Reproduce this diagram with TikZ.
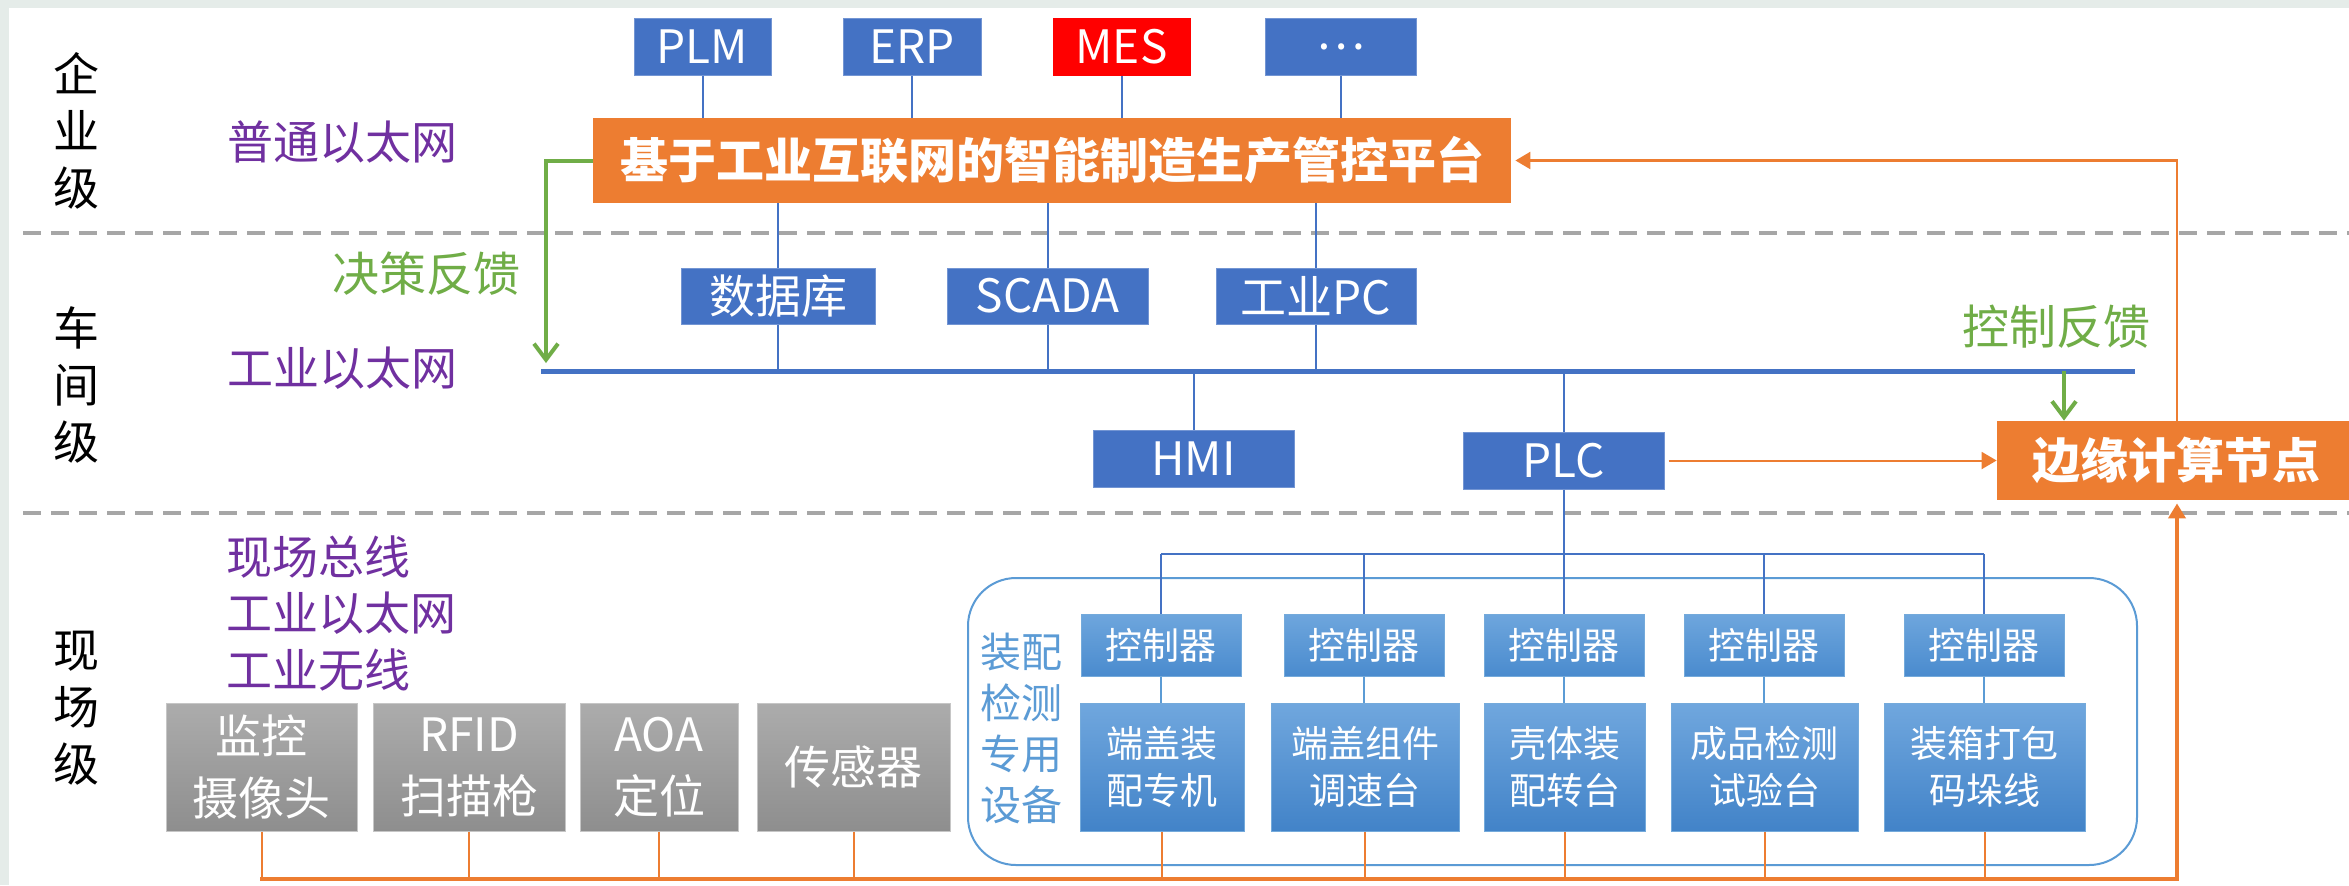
\documentclass[tikz,border=0pt]{standalone}
\usepackage{fontspec}
\setmainfont{Noto Sans CJK SC}
\usetikzlibrary{arrows.meta,calc}
\definecolor{bblue}{HTML}{4472C4}
\definecolor{lblue}{HTML}{5B9BD5}
\definecolor{orng}{HTML}{ED7D31}
\definecolor{grn}{HTML}{70AD47}
\definecolor{purp}{HTML}{7030A0}
\definecolor{dgray}{HTML}{A6A6A6}
\definecolor{mred}{HTML}{FF0000}
\definecolor{bandc}{HTML}{E5ECE9}
\definecolor{ctop}{HTML}{6EA6DD}
\definecolor{cbot}{HTML}{4A8BCE}
\definecolor{mtop}{HTML}{70A7DE}
\definecolor{mbot}{HTML}{4283C8}
\definecolor{gtop}{HTML}{ACACAC}
\definecolor{gbot}{HTML}{8E8E8E}
\begin{document}
\begin{tikzpicture}[x=0.5pt,y=-0.5pt,
  bluebox/.style={fill=bblue, draw=bblue!75!white, line width=0.5pt, text=white, inner sep=0pt,
    font=\fontsize{23}{28}\selectfont, minimum height=28.5pt},
  orangebox/.style={fill=orng, text=white, inner sep=0pt, font=\fontsize{24}{29}\selectfont\bfseries},
  ctrlbox/.style={top color=ctop, bottom color=cbot, draw=lblue!85!white, line width=0.5pt, text=white,
    inner sep=0pt, minimum width=80pt, minimum height=31pt, font=\fontsize{18.5}{23.5}\selectfont, align=center},
  machbox/.style={top color=mtop, bottom color=mbot, draw=lblue!85!white, line width=0.5pt, text=white,
    inner sep=0pt, minimum height=64pt, font=\fontsize{18.5}{23.5}\selectfont, align=center},
  graybox/.style={top color=gtop, bottom color=gbot, draw=gray!45, line width=0.5pt, text=white,
    inner sep=0pt, minimum height=64pt, font=\fontsize{23}{31}\selectfont, align=center},
  lvl/.style={font=\fontsize{23}{28.5}\selectfont, align=center, text=black, inner sep=0pt},
  netlabel/.style={text=purp, font=\fontsize{23}{28.25}\selectfont, inner sep=0pt},
  fblabel/.style={text=grn, font=\fontsize{23.5}{28}\selectfont, inner sep=0pt},
  bline/.style={bblue, line width=1pt},
  oline/.style={orng, line width=1pt},
  garrow/.style={grn, line width=2pt, -{Straight Barb[length=8pt,width=12pt]}},
  otip/.style={-{Triangle[length=7.5pt,width=8.5pt]}},
  sepline/.style={dgray, line width=2pt, dash pattern=on 9pt off 5pt}
]
\useasboundingbox (0,0) rectangle (2349,885);
\fill[white] (0,0) rectangle (2349,885);
\fill[bandc] (0,0) rectangle (2349,8);
\fill[bandc] (0,0) rectangle (9,885);

% separators
\draw[sepline] (23,233) -- (2349,233);
\draw[sepline] (23,513) -- (2349,513);

% container
\draw[lblue, line width=1pt, rounded corners=24pt] (968,578) rectangle (2137,865);

% level labels
\node[lvl] (lv1) at (76,131) {企\\业\\级};
\node[lvl] (lv2) at (76,385) {车\\间\\级};
\node[lvl] (lv3) at (76,708) {现\\场\\级};

\node[netlabel] (n1) at (342,142) {普通以太网};
\node[netlabel] (n2) at (342,368) {工业以太网};
\node[netlabel, anchor=west, align=left] (n3) at (226,613) {现场总线\\工业以太网\\工业无线};
\node[fblabel] (fb1) at (426,274) {决策反馈};
\node[fblabel] (fb2) at (2056,327) {控制反馈};
\node[text=lblue, font=\fontsize{20.5}{25.5}\selectfont, align=center, inner sep=0pt] (side) at (1021,728) {装配\\检测\\专用\\设备};

% enterprise
\node[bluebox, minimum width=68.5pt] (plm) at (702.5,46.5) {PLM};
\node[bluebox, minimum width=69pt] (erp) at (912,46.5) {ERP};
\node[bluebox, fill=mred, draw=mred, minimum width=68.5pt] (mes) at (1121.5,46.5) {MES};
\node[bluebox, minimum width=75.5pt] (dots) at (1340.5,46.5) {…};
\node[orangebox, minimum width=459pt, minimum height=42.5pt] (plat) at (1052,160.5) {基于工业互联网的智能制造生产管控平台};

% workshop
\node[bluebox, minimum width=97pt, minimum height=28pt] (db) at (778,296) {数据库};
\node[bluebox, minimum width=100.5pt, minimum height=28pt] (scada) at (1047.5,296) {SCADA};
\node[bluebox, minimum width=100pt, minimum height=28pt] (ipc) at (1316,296) {工业PC};
\node[bluebox, minimum width=100.5pt] (hmi) at (1193.5,458.5) {HMI};
\node[bluebox, minimum width=100.5pt] (plc) at (1563.5,460.5) {PLC};
\node[orangebox, minimum width=179pt, minimum height=39.5pt] (edge) at (2176,460.5) {边缘计算节点};

% field: controllers
\node[ctrlbox] (c1) at (1161,645) {控制器};
\node[ctrlbox] (c2) at (1364,645) {控制器};
\node[ctrlbox] (c3) at (1564,645) {控制器};
\node[ctrlbox] (c4) at (1764,645) {控制器};
\node[ctrlbox] (c5) at (1984,645) {控制器};

% machines
\node[machbox, minimum width=82pt] (m1) at (1162,767) {端盖装\\配专机};
\node[machbox, minimum width=94pt] (m2) at (1365,767) {端盖组件\\调速台};
\node[machbox, minimum width=80.5pt] (m3) at (1564.5,767) {壳体装\\配转台};
\node[machbox, minimum width=93.5pt] (m4) at (1764.5,767) {成品检测\\试验台};
\node[machbox, minimum width=100.5pt] (m5) at (1984.5,767) {装箱打包\\码垛线};

% gray devices
\node[graybox, minimum width=95.5pt] (g1) at (261.5,767) {监控\\摄像头};
\node[graybox, minimum width=96pt] (g2) at (469,767) {RFID\\扫描枪};
\node[graybox, minimum width=79pt] (g3) at (659,767) {AOA\\定位};
\node[graybox, minimum width=96.5pt] (g4) at (853.5,767) {传感器};

% coordinates
\coordinate (ethL) at (541,371);
\coordinate (ethR) at (2135,371);
\coordinate (busL) at (1161,554);
\coordinate (busR) at (1984,554);
\coordinate (obL) at (260,879);
\coordinate (obR) at (2177,879);
\coordinate (gc) at (546,160.5);
\coordinate (gd) at (2064,371);

% enterprise connectors
\draw[bline] (plm.south) -- (plm.south |- plat.north);
\draw[bline] (erp.south) -- (erp.south |- plat.north);
\draw[bline] (mes.south) -- (mes.south |- plat.north);
\draw[bline] (dots.south) -- (dots.south |- plat.north);
\draw[bline] (db.north) -- (db.north |- plat.south);
\draw[bline] (scada.north) -- (scada.north |- plat.south);
\draw[bline] (ipc.north) -- (ipc.north |- plat.south);

% ethernet
\draw[bblue, line width=2.5pt] (ethL) -- (ethR);
\draw[bline] (db.south) -- (db.south |- ethL);
\draw[bline] (scada.south) -- (scada.south |- ethL);
\draw[bline] (ipc.south) -- (ipc.south |- ethL);
\draw[bline] (hmi.north) -- (hmi.north |- ethL);
\draw[bline] (plc.north) -- (plc.north |- ethL);

% field bus
\draw[bline] (plc.south) -- (plc.south |- busL);
\draw[bline] (busL) -- (busR);
\foreach \i in {1,...,5} {
  \draw[bline] (c\i.north) -- (c\i.north |- busL);
  \draw[bline, lblue] (c\i.south) -- (c\i.south |- m\i.north);
}

% orange bottom bus
\foreach \n in {g1,g2,g3,g4,m1,m2,m3,m4,m5} {
  \draw[oline] (\n.south) -- (\n.south |- obL);
}
\draw[orng, line width=2pt, otip, line join=miter] (obL) -- (obR) -- ([yshift=-1.5pt]edge.south -| obR);

% edge connections
\draw[oline, otip, shorten <=2pt] (plc.east) -- (edge.west);
\draw[orng, line width=1.2pt, otip] (edge.north -| obR) -- (obR |- plat.east) -- ([xshift=2pt]plat.east);

% green feedback arrows
\draw[garrow, line join=miter] (plat.west) -- (gc) -- ([yshift=4pt]gc |- ethL);
\draw[garrow] (gd) -- (gd |- edge.north);
\end{tikzpicture}
\end{document}
